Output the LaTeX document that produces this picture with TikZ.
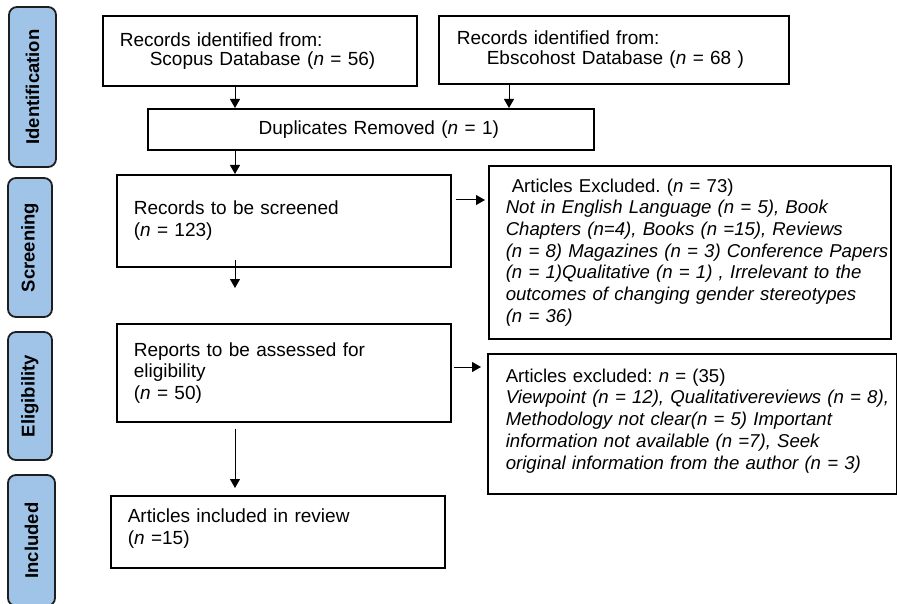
\documentclass[tikz,border=0pt]{standalone}
\usepackage{fontspec}
\setmainfont{Liberation Sans}
\usetikzlibrary{arrows.meta}
\definecolor{sidefill}{RGB}{160,196,232}
\definecolor{sideline}{RGB}{30,30,30}
\frenchspacing
\begin{document}
\begin{tikzpicture}[x=1pt,y=-1pt,
  sidebox/.style={draw=sideline, line width=1.8pt, fill=sidefill, rounded corners=8pt,
    rotate=90, inner sep=0pt, font=\fontsize{18.5}{20}\selectfont\bfseries},
  flowbox/.style={draw=black, line width=1.6pt, rectangle, anchor=north west,
    inner xsep=17pt, inner ysep=0pt, align=left, font=\fontsize{19}{21.7}\selectfont\frenchspacing},
  exclfont/.style={font=\fontsize{18.6}{21.7}\selectfont\frenchspacing},
  arr/.style={draw=black, line width=1pt, -{Triangle[length=9pt,width=10pt]}}
]
\useasboundingbox (0,0) rectangle (897,604);

% side labels
\node[sidebox, minimum width=160pt, minimum height=47pt] (sid) at (32.5,87) {Identification};
\node[sidebox, minimum width=139pt, minimum height=44pt] (sscr) at (30,247.5) {Screening};
\node[sidebox, minimum width=128pt, minimum height=44pt] (selig) at (30,396) {Eligibility};
\node[sidebox, minimum width=131pt, minimum height=47pt] (sinc) at (31.5,540.5) {Included};

% flow boxes
\node[flowbox, font=\fontsize{19}{19}\selectfont, text width=280pt, minimum height=70pt] (scopus) at (102,15)
  {Records identified from:\\\hspace*{30pt}Scopus Database (\textit{n} = 56)};
\node[flowbox, font=\fontsize{19}{20}\selectfont, inner xsep=18pt, text width=314pt, minimum height=68pt] (ebsco) at (438,15)
  {Records identified from:\\\hspace*{30pt}Ebscohost Database (\textit{n} = 68 )};
\node[flowbox, align=center, text width=412pt, minimum height=41pt] (dup) at (147,108)
  {\hspace*{16pt}Duplicates Removed (\textit{n} = 1)};
\node[flowbox, text width=300pt, minimum height=92pt] (records) at (116,174)
  {Records to be screened\\(\textit{n} = 123)};
\node[flowbox, exclfont, text width=368pt, minimum height=173pt] (excl1) at (488,165)
  {\mbox{\hspace*{6pt}Articles Excluded. (\textit{n} = 73)}\\
   \mbox{\textit{Not in English Language (n = 5), Book}}\\
   \mbox{\textit{Chapters (n=4), Books (n =15), Reviews}}\\
   \mbox{\textit{(n = 8) Magazines (n = 3) Conference Papers}}\\
   \mbox{\textit{(n = 1)Qualitative (n = 1) , Irrelevant to the}}\\
   \mbox{\textit{outcomes of changing gender stereotypes}}\\
   \mbox{\textit{(n = 36)}}};
\node[flowbox, text width=300pt, minimum height=98pt] (reports) at (116,323)
  {Reports to be assessed for\\eligibility\\(\textit{n} = 50)};
\node[flowbox, exclfont, inner xsep=18pt, text width=373pt, minimum height=140pt] (excl2) at (487,353)
  {\mbox{Articles excluded: \textit{n} = (35)}\\
   \mbox{\textit{Viewpoint (n = 12), Qualitativereviews (n = 8),}}\\
   \mbox{\textit{Methodology not clear(n = 5) Important}}\\
   \mbox{\textit{information not available (n =7), Seek}}\\
   \mbox{\textit{original information from the author (n = 3)}}\\[-12pt]\mbox{}};
\node[flowbox, text width=300pt, minimum height=72pt] (included) at (110,495)
  {Articles included in review\\(\textit{n} =15)\\[-12pt]\mbox{}};

% helper coordinates
\coordinate (cx) at (235,0);
\coordinate (ex) at (509,0);
\coordinate (r1) at (0,200);
\coordinate (r2) at (0,367);
\coordinate (rend) at (235,288);

% connectors
\draw[arr] (scopus.south -| cx) -- (dup.north -| cx);
\draw[arr] (ebsco.south -| ex) -- (dup.north -| ex);
\draw[arr] (dup.south -| cx) -- (records.north -| cx);
\draw[arr, shorten <=4pt, shorten >=3pt] (records.east |- r1) -- (excl1.west |- r1);
\draw[arr] ([yshift=8pt]records.south -| cx) -- (rend);
\draw[arr, shorten <=2pt, shorten >=6pt] (reports.east |- r2) -- (excl2.west |- r2);
\draw[arr, shorten <=6pt, shorten >=7pt] (reports.south -| cx) -- (included.north -| cx);
\end{tikzpicture}
\end{document}
